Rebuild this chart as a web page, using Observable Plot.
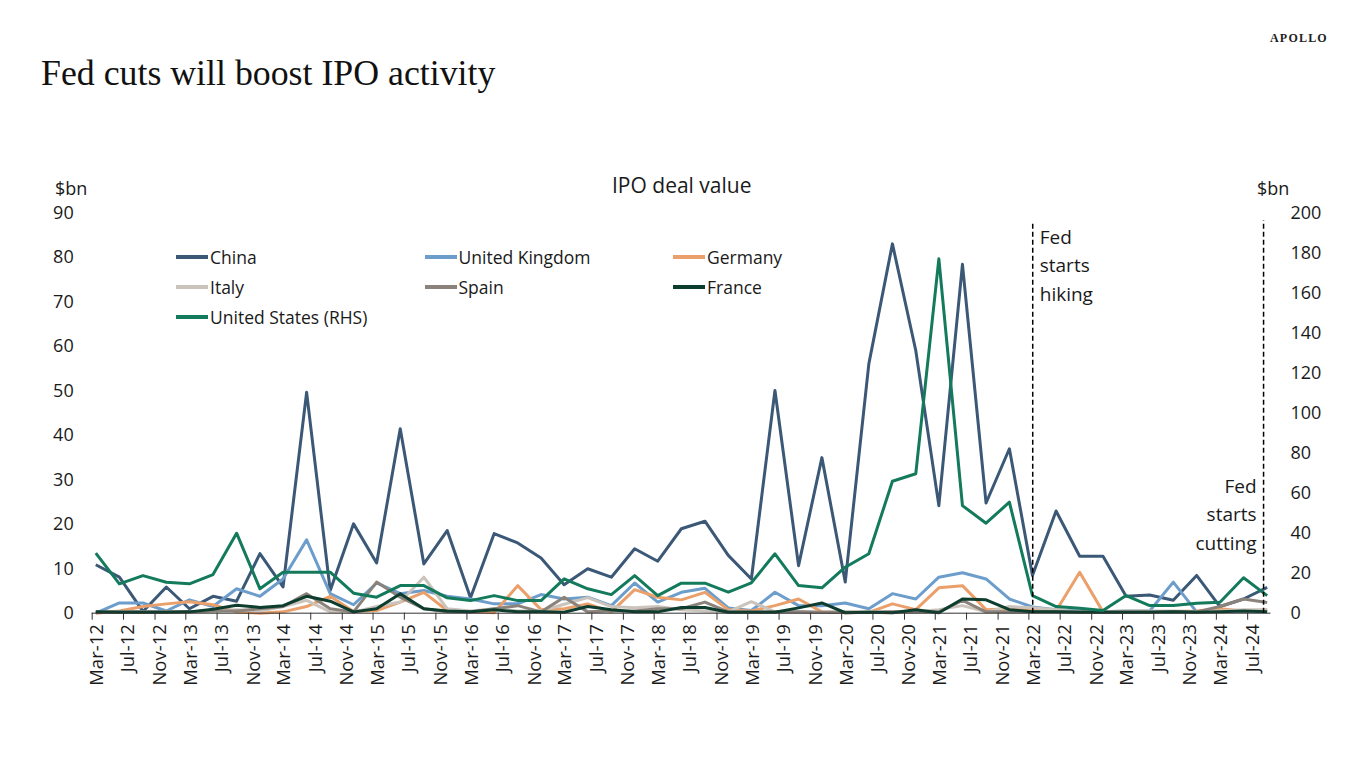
<!DOCTYPE html>
<html><head><meta charset="utf-8">
<script src="https://cdn.jsdelivr.net/npm/d3@7"></script>
<script src="https://cdn.jsdelivr.net/npm/@observablehq/plot@0.6"></script>
<style>
body{margin:0;background:#fff;}
#page{position:relative;width:1366px;height:768px;overflow:hidden;font-family:"Open Sans",sans-serif;color:#1a1a1a;background:#fff;}
#title{position:absolute;left:41px;top:52px;font-family:"Liberation Serif",serif;font-size:35.8px;color:#111;white-space:nowrap;}
#logo{position:absolute;left:1270px;top:31px;font-family:"Liberation Serif",serif;font-size:12px;letter-spacing:1.2px;font-weight:bold;color:#222;}
#chart{position:absolute;left:0;top:150px;}
.lbl{position:absolute;white-space:nowrap;color:#1a1a1a;}
.leg{position:absolute;display:flex;align-items:center;font-size:17.5px;white-space:nowrap;}
.sw{width:32px;height:4px;margin-right:2px;}
</style>
</head><body>
<div id="page">
  <div id="title">Fed cuts will boost IPO activity</div>
  <div id="logo">APOLLO</div>
  <div id="chart"></div>
  <div class="lbl" id="ctitle" style="left:612px;top:171px;font-size:21px;">IPO deal value</div>
  <div class="lbl" style="left:55px;top:176px;font-size:18px;">$bn</div>
  <div class="lbl" style="left:1257px;top:176px;font-size:18px;">$bn</div>
  <div id="legend"></div>
</div>
<script>
// ---- data ----
const quarterLabels = ["Mar-12","Jun-12","Sep-12","Dec-12","Mar-13","Jun-13","Sep-13","Dec-13",
"Mar-14","Jun-14","Sep-14","Dec-14","Mar-15","Jun-15","Sep-15","Dec-15",
"Mar-16","Jun-16","Sep-16","Dec-16","Mar-17","Jun-17","Sep-17","Dec-17",
"Mar-18","Jun-18","Sep-18","Dec-18","Mar-19","Jun-19","Sep-19","Dec-19",
"Mar-20","Jun-20","Sep-20","Dec-20","Mar-21","Jun-21","Sep-21","Dec-21",
"Mar-22","Jun-22","Sep-22","Dec-22","Mar-23","Jun-23","Sep-23","Dec-23",
"Mar-24","Jun-24","Sep-24"];

const china = [10.9, 8.1, 0.4, 5.9, 1.0, 3.8, 2.7, 13.4, 5.9, 49.7, 5.1, 20.1, 11.3, 41.5, 11.1, 18.6, 3.5, 17.9, 15.8, 12.4, 6.4, 10.0, 8.1, 14.5, 11.7, 19.0, 20.7, 13.0, 7.7, 50.1, 10.7, 35.0, 7.0, 56.1, 83.1, 59.1, 24.2, 78.5, 24.8, 37.0, 8.5, 23.0, 12.8, 12.8, 3.8, 4.1, 2.9, 8.5, 1.5, 3.2, 5.8];
const unitedKingdom = [0.0, 2.3, 2.3, 0.5, 3.0, 1.5, 5.5, 3.8, 7.7, 16.5, 4.4, 1.9, 6.8, 4.4, 5.1, 3.8, 3.2, 2.1, 2.1, 4.2, 3.2, 3.6, 1.7, 6.8, 2.5, 4.7, 5.6, 1.2, 0.6, 4.7, 1.7, 1.7, 2.3, 1.0, 4.4, 3.2, 8.1, 9.1, 7.7, 3.2, 1.4, 0.8, 0.5, 0.3, 0.5, 0.5, 7.0, 0.3, 0.5, 0.5, 0.5];
const germany = [0.0, 0.5, 1.5, 2.1, 2.6, 1.9, 0.3, 0.0, 0.3, 1.5, 3.8, 0.4, 0.6, 2.5, 4.7, 0.6, 0.3, 0.1, 6.2, 0.8, 1.0, 2.1, 0.3, 5.3, 3.6, 3.0, 4.7, 0.8, 0.5, 1.7, 3.2, 0.3, 0.1, 0.2, 2.1, 0.8, 5.7, 6.2, 0.8, 1.0, 0.8, 0.5, 9.2, 0.3, 0.3, 0.4, 0.4, 0.5, 1.0, 0.5, 0.8];
const italy = [0.2, 0.3, 0.3, 0.3, 0.3, 0.5, 0.8, 0.5, 1.5, 2.9, 0.3, 0.2, 1.5, 2.5, 8.1, 1.0, 0.5, 1.0, 0.5, 0.5, 2.0, 3.5, 1.5, 1.2, 1.5, 0.8, 0.5, 0.3, 2.6, 0.3, 0.3, 0.2, 0.3, 0.3, 0.3, 0.3, 0.8, 1.7, 0.3, 1.5, 1.2, 0.8, 0.3, 0.3, 0.5, 0.5, 0.5, 0.3, 0.5, 0.8, 0.8];
const spain = [0.2, 0.3, 0.3, 0.3, 0.3, 0.5, 0.5, 1.0, 1.5, 4.4, 1.0, 0.3, 7.0, 3.6, 1.0, 0.3, 0.3, 1.0, 1.7, 0.3, 3.6, 0.3, 0.5, 0.5, 1.0, 1.0, 2.5, 0.3, 0.3, 0.3, 0.3, 0.2, 0.2, 0.2, 0.3, 0.3, 0.3, 2.9, 0.3, 0.3, 0.3, 0.3, 0.3, 0.3, 0.3, 0.3, 0.3, 0.3, 1.5, 3.2, 2.4];
const france = [0.3, 0.2, 0.2, 0.2, 0.3, 0.9, 1.8, 1.3, 1.7, 3.8, 2.7, 0.3, 1.0, 4.4, 1.0, 0.5, 0.3, 0.8, 0.3, 0.3, 0.2, 1.5, 0.8, 0.3, 0.3, 1.3, 1.3, 0.2, 0.2, 0.2, 1.2, 2.3, 0.1, 0.2, 0.1, 0.8, 0.1, 3.2, 3.0, 0.8, 0.3, 0.3, 0.2, 0.2, 0.2, 0.2, 0.3, 0.2, 0.3, 0.5, 0.3];
const unitedStates = [30.0, 14.7, 18.8, 15.5, 14.7, 19.3, 40.0, 12.2, 20.5, 20.5, 20.5, 10.0, 8.0, 13.8, 13.8, 7.7, 6.3, 8.8, 6.3, 6.3, 17.2, 12.2, 9.3, 18.8, 8.8, 15.0, 15.0, 10.5, 15.2, 29.7, 13.8, 12.7, 23.0, 29.7, 66.0, 69.7, 177.2, 53.8, 45.0, 55.5, 8.8, 3.3, 2.5, 1.3, 8.8, 3.8, 3.8, 5.0, 5.5, 17.7, 8.8];

const tickLabels = ["Mar-12","Jul-12","Nov-12","Mar-13","Jul-13","Nov-13","Mar-14","Jul-14","Nov-14",
"Mar-15","Jul-15","Nov-15","Mar-16","Jul-16","Nov-16","Mar-17","Jul-17","Nov-17","Mar-18","Jul-18","Nov-18",
"Mar-19","Jul-19","Nov-19","Mar-20","Jul-20","Nov-20","Mar-21","Jul-21","Nov-21","Mar-22","Jul-22","Nov-22",
"Mar-23","Jul-23","Nov-23","Mar-24","Jul-24"];
const leftTicks = [0,10,20,30,40,50,60,70,80,90];
const rightTicks = [0,20,40,60,80,100,120,140,160,180,200];

const seriesNames = ["China","United Kingdom","Germany","Italy","Spain","France","United States (RHS)"];
const seriesColors = ["#3B5877","#6C9DCB","#EBA06B","#CBC4BC","#8B827B","#0C3D2E","#147A5C"];
const seriesValues = [china, unitedKingdom, germany, italy, spain, france, unitedStates];
const seriesRHS = [false,false,false,false,false,false,true];

const events = [
  {date:"2022-03-16", label:"Fed\nstarts\nhiking", top:87.5, textTop:87.7, side:"start"},
  {date:"2024-09-01", label:"Fed\nstarts\ncutting", top:88.3, textTop:31.7, side:"end"}
];

// ---- helpers ----
const MON = {Jan:0,Feb:1,Mar:2,Apr:3,May:4,Jun:5,Jul:6,Aug:7,Sep:8,Oct:9,Nov:10,Dec:11};
const parseLabel = (s, day) => { const [m,y] = s.split("-"); return new Date(Date.UTC(2000 + +y, MON[m], day)); };
const ratio = 90 / 200; // right axis -> left axis units

const rows = [];
seriesNames.forEach((name, k) => {
  quarterLabels.forEach((q, i) => {
    rows.push({series: name, date: parseLabel(q, 15), value: seriesValues[k][i], plotValue: seriesRHS[k] ? seriesValues[k][i] * ratio : seriesValues[k][i]});
  });
});
const tickDates = tickLabels.map(t => ({date: parseLabel(t, 1), label: t}));
const ev = events.map(e => ({...e, date: new Date(e.date + "T00:00:00Z")}));

const FONT = "'Open Sans', sans-serif";

const chart = Plot.plot({
  width: 1366,
  height: 553,
  marginLeft: 91.7,
  marginRight: 95.5,
  marginTop: 62.7,
  marginBottom: 90.3,
  style: {fontFamily: FONT, fontSize: "17px", color: "#1a1a1a", background: "transparent"},
  x: {type: "utc", domain: [new Date(Date.UTC(2012,2,1)), new Date(Date.UTC(2024,8,30))], axis: null},
  y: {domain: [0, 90], axis: null},
  marks: [
    Plot.axisY(leftTicks, {anchor: "left", tickSize: 0, tickPadding: 18.5, fontSize: 18, label: null}),
    Plot.axisY(rightTicks.map(v => v * ratio), {anchor: "right", tickSize: 0, tickPadding: 19.5, fontSize: 18, label: null,
      tickFormat: d => String(Math.round(d / ratio))}),
    ...seriesNames.map((name, k) => Plot.lineY(rows.filter(r => r.series === name), {
      x: "date", y: "plotValue", stroke: seriesColors[k], strokeWidth: 3, strokeLinejoin: "round", strokeLinecap: "butt"
    })),
    Plot.ruleY([0], {stroke: "#333", strokeWidth: 1}),
    Plot.ruleX(tickDates, {x: "date", y1: 0, y2: 0, insetBottom: -7, stroke: "#333", strokeWidth: 1}),
    Plot.text(tickDates, {x: "date", y: 0, text: "label", rotate: -90, textAnchor: "end", lineAnchor: "middle",
      dx: 5, dy: 11, fontSize: 18.5, fill: "#1a1a1a"}),
    Plot.ruleX(ev, {x: "date", y1: 0, y2: "top", stroke: "#000", strokeWidth: 1.5, strokeDasharray: "5,3"}),
    Plot.text(ev.filter(e => e.side === "start"), {x: "date", y: "textTop", text: "label", textAnchor: "start",
      lineAnchor: "top", lineHeight: 1.5, dx: 7, fontSize: 19, fill: "#1a1a1a"}),
    Plot.text(ev.filter(e => e.side === "end"), {x: "date", y: "textTop", text: "label", textAnchor: "end",
      lineAnchor: "top", lineHeight: 1.5, dx: -7, fontSize: 19, fill: "#1a1a1a"})
  ]
});
document.getElementById("chart").appendChild(chart);

// ---- legend (HTML) ----
const legend = document.getElementById("legend");
seriesNames.forEach((name, k) => {
  const col = k % 3, row = Math.floor(k / 3);
  const item = document.createElement("div");
  item.className = "leg";
  item.style.left = (176 + col * 248.5) + "px";
  item.style.top = (244 + row * 30) + "px";
  item.style.height = "26px";
  const sw = document.createElement("div");
  sw.className = "sw";
  sw.style.background = seriesColors[k];
  const tx = document.createElement("span");
  tx.textContent = name;
  item.appendChild(sw); item.appendChild(tx);
  legend.appendChild(item);
});
</script>
</body></html>
